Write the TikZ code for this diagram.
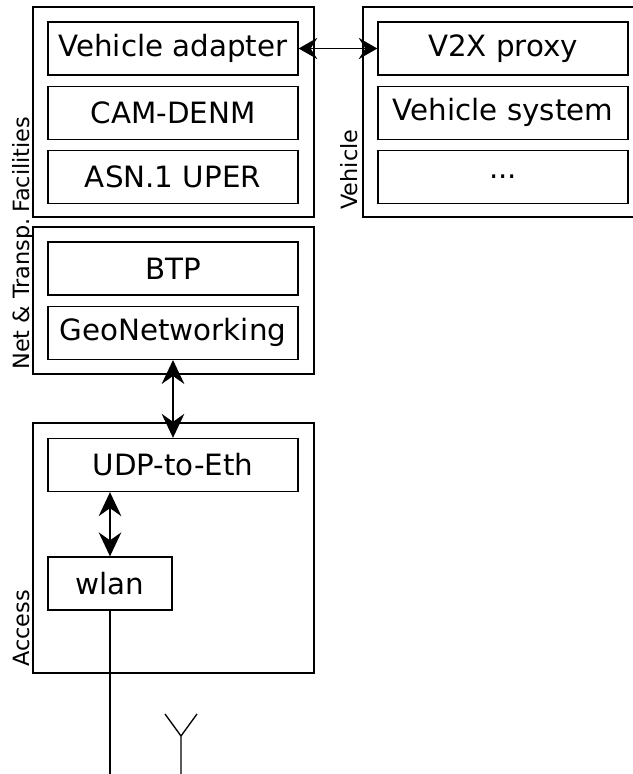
\documentclass[tikz,border=0pt]{standalone}
\usepackage{fontspec}
\setmainfont{DejaVu Sans}
\usetikzlibrary{positioning,arrows.meta}

\begin{document}
\begin{tikzpicture}[x=0.75pt,y=0.75pt,
  layer/.style={draw, line width=1pt, inner sep=0pt},
  block/.style={draw, line width=1pt, inner sep=0pt, minimum width=187.5pt, minimum height=39.75pt, font=\fontsize{22}{26}\selectfont},
  side/.style={rotate=90, anchor=base west, inner sep=0pt, font=\fontsize{16.8}{20}\selectfont},
  link/.style={line width=1pt, {Stealth[length=14pt,width=16pt,inset=5pt]}-{Stealth[length=14pt,width=16pt,inset=5pt]}},
  vlink/.style={line width=1pt, {Stealth[length=18pt,width=17pt,inset=6pt]}-{Stealth[length=18pt,width=17pt,inset=6pt]}}]
  \useasboundingbox (0,0) rectangle (632,-774);
  % Facilities
  \node[layer, minimum width=210.75pt, minimum height=157.5pt] (fac) at (173.5,-112) {};
  \node[side] (faclbl) at (29,-213) {Facilities};
  \node[block] (adapter) at (173,-48.5) {Vehicle adapter};
  \node[block, below=7.5pt of adapter] (camdenm) {CAM-DENM};
  \node[block, below=7.5pt of camdenm] (asn) {ASN.1 UPER};
  % Vehicle
  \node[layer, minimum width=210.75pt, minimum height=157.5pt] (veh) at (503.5,-112) {};
  \node[side] (vehlbl) at (357,-210) {Vehicle};
  \node[block] (proxy) at (503,-48.5) {V2X proxy};
  \node[block, below=7.5pt of proxy] (vsys) {Vehicle system};
  \node[block, below=7.5pt of vsys] (dots) {...};
  % Net & Transp.
  \node[layer, minimum width=210.75pt, minimum height=110.25pt] (net) at (173.5,-300.5) {};
  \node[side] (netlbl) at (29,-370) {Net \& Transp.};
  \node[block] (btp) at (173,-268.5) {BTP};
  \node[block, below=7.5pt of btp] (geo) {GeoNetworking};
  % Access
  \node[layer, minimum width=210.75pt, minimum height=187.5pt] (acc) at (173.5,-548) {};
  \node[side] (acclbl) at (29,-667) {Access};
  \node[block] (udp) at (173,-465) {UDP-to-Eth};
  \node[block, minimum width=93pt] (wlan) at (110,-583.5) {wlan};
  % links
  \draw[link] (adapter.east) -- (proxy.west);
  \draw[vlink] (geo.south) -- (udp.north);
  \draw[vlink] (wlan.north) -- (wlan.north |- udp.south);
  \coordinate (air) at (110,-774);
  \draw[line width=1pt] (wlan.south) -- (air);
  % antenna
  \coordinate (antfoot) at (181,-774);
  \coordinate (ant) at (181,-736);
  \coordinate (antleft) at (165,-714);
  \coordinate (antright) at (197,-714);
  \draw[line width=1pt] (antfoot) -- (ant) (antleft) -- (ant) -- (antright);
\end{tikzpicture}
\end{document}
